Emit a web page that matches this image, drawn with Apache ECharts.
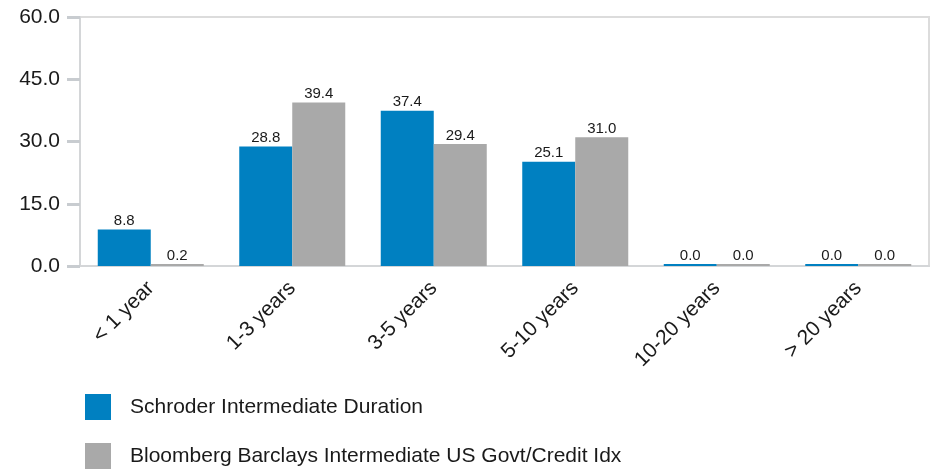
<!DOCTYPE html>
<html>
<head>
<meta charset="utf-8">
<script src="https://cdn.jsdelivr.net/npm/echarts@6/dist/echarts.min.js"></script>
<style>html,body{margin:0;padding:0;background:#fff;}#c{width:943px;height:472px;}</style>
</head>
<body>
<div id="c"></div>
<script>
const categories = ['< 1 year', '1-3 years', '3-5 years', '5-10 years', '10-20 years', '> 20 years'];
const schroder = [8.8, 28.8, 37.4, 25.1, 0.0, 0.0];
const bloomberg = [0.2, 39.4, 29.4, 31.0, 0.0, 0.0];
const seriesNames = ['Schroder Intermediate Duration', 'Bloomberg Barclays Intermediate US Govt/Credit Idx'];
const yTicks = { min: 0, max: 60, interval: 15 };

const chart = echarts.init(document.getElementById('c'), null, { renderer: 'canvas' });
const font = '"Liberation Sans", Arial, sans-serif';
const labelCfg = {
  show: true, position: 'top', distance: 1,
  fontFamily: font, fontSize: 15, color: '#1a1a1a',
  formatter: p => p.value.toFixed(1)
};
chart.setOption({
  animation: false,
  grid: { left: 80, right: 14, top: 17, bottom: 206, show: true, borderColor: '#dcdcdc', borderWidth: 2 },
  legend: {
    orient: 'vertical', left: 85, top: 394, padding: 0,
    itemWidth: 26, itemHeight: 26, itemGap: 23,
    icon: 'rect',
    textStyle: { fontFamily: font, fontSize: 21, color: '#1a1a1a', padding: [6, 0, 0, 14] },
    data: seriesNames
  },
  xAxis: {
    type: 'category', data: categories,
    axisLine: { lineStyle: { color: '#d4d6d8', width: 2 } },
    axisTick: { alignWithLabel: true, length: 11, lineStyle: { color: '#c8ccd0', width: 3 } },
    axisLabel: { rotate: 45, margin: 19, fontFamily: font, fontSize: 21, color: '#1a1a1a', interval: 0 }
  },
  yAxis: {
    type: 'value', min: yTicks.min, max: yTicks.max, interval: yTicks.interval,
    axisLine: { show: true, lineStyle: { color: '#d4d6d8', width: 2 } },
    axisTick: { show: true, length: 13, lineStyle: { color: '#c8ccd0', width: 3 } },
    splitLine: { show: false },
    axisLabel: { margin: 20, padding: [5, 0, 0, 0], fontFamily: font, fontSize: 21, color: '#1a1a1a', formatter: v => v.toFixed(1) }
  },
  series: [
    { name: seriesNames[0], type: 'bar', data: schroder, barWidth: 53, barGap: '0%', barMinHeight: 2,
      itemStyle: { color: '#0080c1' }, label: labelCfg },
    { name: seriesNames[1], type: 'bar', data: bloomberg, barWidth: 53, barGap: '0%', barMinHeight: 2,
      itemStyle: { color: '#a9a9a9' }, label: labelCfg }
  ]
});
</script>
</body>
</html>
